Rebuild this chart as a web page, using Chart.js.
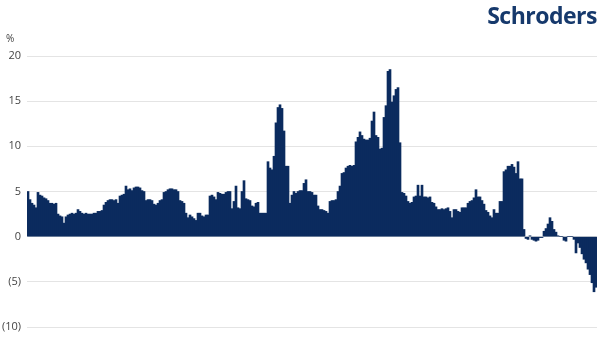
<!DOCTYPE html>
<html>
<head>
<meta charset="utf-8">
<script src="https://cdn.jsdelivr.net/npm/chart.js@4.4.0/dist/chart.umd.min.js"></script>
<style>
  html, body { margin: 0; padding: 0; background: #fff; }
  .wrap { position: relative; width: 600px; height: 342px; }
  .logo { position: absolute; right: 3px; top: -1px; font-family: 'Open Sans'; font-weight: 700; font-size: 23px; color: #16396c; letter-spacing: -0.5px; }
  .unit { position: absolute; left: 6px; top: 31px; font-family: 'Open Sans'; font-size: 10px; color: #404040; }
  canvas { position: absolute; left: 0; top: 0; }
</style>
</head>
<body>
<div class="wrap">
  <canvas id="chart" width="600" height="342"></canvas>
  <div class="logo">Schroders</div>
  <div class="unit">%</div>
</div>
<script>
// growth series, one bar per period
const values = [
  5.0, 4.1, 3.7, 3.5, 3.2, 4.9, 4.6, 4.5, 4.3, 4.2, 4.0, 3.7, 3.7, 3.6, 3.7,
  2.5, 2.3, 2.2, 1.5, 2.2, 2.4, 2.5, 2.6, 2.5, 2.6, 3.0, 2.8, 2.6, 2.5, 2.6,
  2.5, 2.5, 2.5, 2.6, 2.6, 2.8, 2.8, 2.9, 3.5, 3.8, 4.0, 4.1, 4.1, 4.0, 4.1,
  3.7, 4.5, 4.6, 4.7, 5.6, 5.2, 5.3, 5.1, 5.4, 5.5, 5.5, 5.4, 5.1, 5.0, 4.0,
  4.1, 4.1, 4.0, 3.6, 3.5, 3.7, 4.0, 4.1, 4.9, 5.0, 5.2, 5.3, 5.3, 5.2, 5.2,
  5.0, 4.0, 3.9, 3.7, 2.6, 2.1, 2.4, 2.2, 2.0, 1.8, 2.6, 2.6, 2.3, 2.2, 2.4,
  2.4, 4.5, 4.6, 4.4, 4.1, 4.9, 4.8, 4.7, 4.7, 4.9, 5.0, 5.0, 3.1, 3.9, 5.6,
  3.2, 3.1, 5.0, 6.2, 4.2, 4.1, 4.0, 3.4, 3.3, 3.7, 3.8, 2.6, 2.6, 2.6, 2.6,
  8.3, 7.6, 7.4, 8.9, 12.6, 14.3, 14.6, 14.2, 11.7, 7.8, 7.8, 3.7, 4.6, 5.0, 4.8,
  5.0, 5.1, 5.1, 5.9, 6.3, 5.0, 5.0, 4.9, 4.6, 4.6, 3.4, 3.0, 3.0, 2.9, 2.8,
  2.6, 3.9, 4.0, 4.0, 4.1, 5.0, 5.6, 7.0, 7.1, 7.6, 7.8, 7.9, 7.8, 7.9, 10.5,
  11.0, 11.6, 11.2, 10.8, 10.7, 10.7, 10.9, 12.8, 13.8, 11.2, 11.0, 9.7, 9.8, 13.2, 14.5,
  18.3, 18.5, 14.9, 15.6, 16.3, 16.5, 10.4, 4.9, 4.8, 4.5, 3.9, 3.7, 3.8, 4.4, 4.5,
  5.7, 4.5, 5.7, 4.4, 4.4, 4.3, 4.4, 3.8, 3.7, 3.3, 3.0, 3.0, 3.1, 3.0, 3.1,
  3.2, 2.8, 2.1, 3.0, 3.0, 2.8, 2.7, 3.2, 3.2, 3.2, 3.7, 3.9, 4.0, 4.3, 5.2,
  4.4, 4.4, 4.0, 3.6, 2.9, 2.7, 2.3, 2.1, 3.0, 2.6, 2.6, 3.9, 3.9, 7.2, 7.4,
  7.8, 7.8, 8.0, 7.7, 7.0, 8.3, 6.4, 6.4, 0.8, -0.2, -0.3, 0.1, -0.3, -0.4, -0.5,
  -0.4, -0.1, -0.1, 0.6, 0.9, 1.4, 2.1, 1.7, 0.8, 0.5, 0.1, 0.0, 0.0, -0.4, -0.5,
  0.0, 0.0, 0.0, -0.3, -1.8, -0.7, -1.2, -1.9, -2.5, -2.9, -3.6, -4.2, -5.1, -6.1, -5.6
];
const periods = values.map((v, i) => i + 1);
const tickValues = [20, 15, 10, 5, 0, -5, -10];
const tickLabels = ['20', '15', '10', '5', '0', '(5)', '(10)'];

const navy = '#0b2b5e';

new Chart(document.getElementById('chart'), {
  type: 'bar',
  data: {
    labels: periods,
    datasets: [{
      data: values,
      backgroundColor: navy,
      borderWidth: 0,
      barPercentage: 1,
      categoryPercentage: 1,
    }],
  },
  options: {
    responsive: false,
    animation: false,
    layout: { padding: { left: 0, right: 3, top: 56, bottom: 15 } },
    plugins: { legend: { display: false }, tooltip: { enabled: false } },
    scales: {
      x: { display: false },
      y: {
        min: -10,
        max: 20,
        afterFit: (scale) => { scale.width = 27; },
        border: { display: false },
        grid: { color: '#e4e4e4', drawTicks: false },
        ticks: {
          stepSize: 5,
          padding: 6,
          color: '#444',
          font: { family: 'Open Sans', size: 11 },
          callback: (v) => tickLabels[tickValues.indexOf(v)],
        },
      },
    },
  },
});
</script>
</body>
</html>
